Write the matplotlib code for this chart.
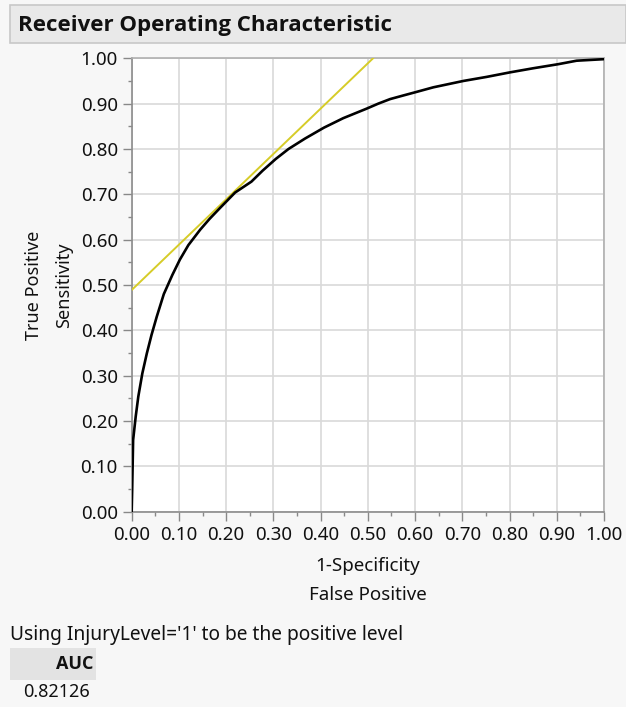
import matplotlib
matplotlib.use("Agg")
import matplotlib.pyplot as plt
import matplotlib.ticker as ticker
from matplotlib.patches import Rectangle

# ROC curve
fpr = [0.0, 0.001, 0.003, 0.0085, 0.014, 0.0225, 0.032, 0.042, 0.053, 0.068,
       0.086, 0.102, 0.120, 0.145, 0.165, 0.188, 0.219, 0.2535, 0.277, 0.305,
       0.332, 0.367, 0.407, 0.448, 0.4975, 0.522, 0.547, 0.575, 0.600, 0.6386,
       0.702, 0.7516, 0.801, 0.850, 0.903, 0.942, 0.9985, 1.0]
tpr = [0.0, 0.048, 0.158, 0.21, 0.254, 0.305, 0.349, 0.390, 0.430, 0.480,
       0.522, 0.556, 0.588, 0.622, 0.646, 0.671, 0.704, 0.728, 0.752, 0.778,
       0.800, 0.823, 0.847, 0.868, 0.889, 0.900, 0.910, 0.918, 0.925, 0.936,
       0.950, 0.959, 0.969, 0.978, 0.987, 0.9947, 0.998, 1.0]

# tangent line (yellow)
tan_x = [0.0, 0.511]
tan_y = [0.489, 1.0]

ticks = [i / 10 for i in range(11)]
tick_labels = ['%.2f' % t for t in ticks]

title = 'Receiver Operating Characteristic'
note = "Using InjuryLevel='1' to be the positive level"
auc_label = 'AUC'
auc_value = '0.82126'

plt.rcParams['font.family'] = ['Noto Sans', 'DejaVu Sans']
bold_font = ['Open Sans', 'DejaVu Sans']

bg = '#f7f7f7'
ink = '#111111'
fig = plt.figure(figsize=(6.26, 7.07), dpi=100, facecolor=bg)

# title bar
fig.patches.append(Rectangle((10 / 626, 1 - 43 / 707), 616 / 626, 38 / 707,
                             transform=fig.transFigure, facecolor='#e9e9e9',
                             edgecolor='#c8c8c8', linewidth=1.2))
fig.text(18 / 626, 1 - 25 / 707, title, fontsize=16, fontweight='bold',
         family=bold_font, va='center', ha='left', color=ink)

ax = fig.add_axes([131.7 / 626, 1 - 511.7 / 707, 472.3 / 626, 453.4 / 707])
ax.set_facecolor('white')
ax.plot(tan_x, tan_y, color='#d6cc28', linewidth=1.4, zorder=3)
ax.plot(fpr, tpr, color='black', linewidth=1.9, zorder=4)

ax.set_xlim(0, 1)
ax.set_ylim(0, 1)
ax.set_xticks(ticks)
ax.set_yticks(ticks)
ax.set_xticklabels(tick_labels)
ax.set_yticklabels(tick_labels)
ax.xaxis.set_minor_locator(ticker.MultipleLocator(0.05))
ax.yaxis.set_minor_locator(ticker.MultipleLocator(0.05))
ax.tick_params(which='major', length=6.5, width=1.0, color='#888888',
               labelsize=13.5, pad=3.5, labelcolor=ink)
ax.tick_params(which='minor', length=3, width=1.0, color='#888888')
ax.grid(True, which='major', color='#d9d9d9', linewidth=1.2, zorder=0)
ax.set_axisbelow(True)
for side in ['left', 'bottom']:
    ax.spines[side].set_color('#8c8c8c')
    ax.spines[side].set_linewidth(1.2)
for side in ['top', 'right']:
    ax.spines[side].set_color('#b0b0b0')
    ax.spines[side].set_linewidth(1.2)

# axis titles
fig.text(34 / 626, 1 - 285 / 707, 'True Positive', rotation=90, fontsize=13,
         ha='center', va='center', color=ink)
fig.text(64 / 626, 1 - 285 / 707, 'Sensitivity', rotation=90, fontsize=13,
         ha='center', va='center', color=ink)
fig.text(368 / 626, 1 - 566 / 707, '1-Specificity', fontsize=13.5,
         ha='center', va='center', color=ink)
fig.text(368 / 626, 1 - 595 / 707, 'False Positive', fontsize=13.5,
         ha='center', va='center', color=ink)

# report below the plot
fig.text(10 / 626, 1 - 635 / 707, note, fontsize=13.8, ha='left', va='center',
         color=ink)
fig.patches.append(Rectangle((10 / 626, 1 - 680 / 707), 86 / 626, 32 / 707,
                             transform=fig.transFigure, facecolor='#e3e3e3',
                             edgecolor='none'))
fig.text(93 / 626, 1 - 664 / 707, auc_label, fontsize=13, fontweight='bold',
         family=bold_font, ha='right', va='center', color=ink)
fig.text(23 / 626, 1 - 692 / 707, auc_value, fontsize=13, ha='left',
         va='center', color=ink)

plt.savefig('out.png', dpi=100, facecolor=bg)
